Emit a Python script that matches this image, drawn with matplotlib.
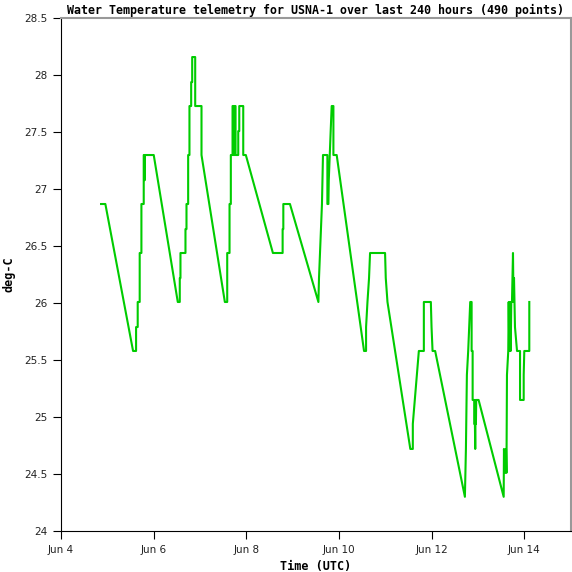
import matplotlib
matplotlib.use("Agg")
import matplotlib.pyplot as plt

# Zeit in Tagen seit Jun 4 00:00 UTC, Wassertemperatur in deg-C
days = [0.865, 0.958, 1.556, 1.621, 1.621, 1.656, 1.656, 1.699, 1.699, 1.736,
        1.736, 1.786, 1.786, 1.801, 1.801, 1.811, 1.811, 2.002,
        2.521, 2.564, 2.564, 2.579, 2.579, 2.687, 2.687, 2.709, 2.709, 2.745,
        2.745, 2.773, 2.773, 2.810, 2.810, 2.832, 2.832, 2.897, 2.897, 3.033,
        3.033,
        3.537, 3.588, 3.588, 3.638, 3.638, 3.666, 3.666, 3.703, 3.703, 3.725,
        3.725, 3.746, 3.746, 3.768, 3.768, 3.826, 3.826, 3.848, 3.848, 3.934,
        3.934, 3.990,
        4.574, 4.784, 4.784, 4.799, 4.799, 4.942,
        5.556, 5.569, 5.590, 5.612, 5.633, 5.655, 5.750, 5.750, 5.772, 5.780,
        5.800, 5.821, 5.843, 5.880, 5.880, 5.951,
        6.541, 6.585, 6.585, 6.615, 6.649, 6.671, 6.995, 7.010, 7.047,
        7.540, 7.594, 7.594, 7.637, 7.681, 7.724, 7.832, 7.832, 7.983, 7.998,
        8.020, 8.076,
        8.718, 8.740, 8.761, 8.789, 8.811, 8.833, 8.863, 8.863, 8.885, 8.885,
        8.919, 8.919, 8.934, 8.941, 8.950, 8.956, 8.962, 9.014,
        9.555, 9.561, 9.583, 9.605, 9.615, 9.626, 9.654, 9.663, 9.676, 9.691,
        9.706, 9.719, 9.734, 9.745, 9.756, 9.767, 9.778, 9.799, 9.843, 9.908,
        9.908, 9.987, 9.987, 10.000, 10.108, 10.108]

temp = [26.87, 26.87, 25.58, 25.58, 25.79, 25.79, 26.01, 26.01, 26.44, 26.44,
        26.87, 26.87, 27.30, 27.30, 27.08, 27.08, 27.30, 27.30,
        26.01, 26.01, 26.22, 26.22, 26.44, 26.44, 26.65, 26.65, 26.87, 26.87,
        27.30, 27.30, 27.73, 27.73, 27.94, 27.94, 28.16, 28.16, 27.73, 27.73,
        27.30,
        26.01, 26.01, 26.44, 26.44, 26.87, 26.87, 27.30, 27.30, 27.73, 27.73,
        27.30, 27.30, 27.73, 27.73, 27.30, 27.30, 27.51, 27.51, 27.73, 27.73,
        27.30, 27.30,
        26.44, 26.44, 26.65, 26.65, 26.87, 26.87,
        26.01, 26.22, 26.44, 26.65, 26.87, 27.30, 27.30, 26.87, 26.87, 27.08,
        27.30, 27.51, 27.73, 27.73, 27.30, 27.30,
        25.58, 25.58, 25.79, 26.01, 26.22, 26.44, 26.44, 26.22, 26.01,
        24.72, 24.72, 24.94, 25.15, 25.37, 25.58, 25.58, 26.01, 26.01, 25.79,
        25.58, 25.58,
        24.30, 24.72, 25.37, 25.58, 25.79, 26.01, 26.01, 25.58, 25.58, 25.15,
        25.15, 24.94, 24.94, 24.72, 25.15, 24.94, 25.15, 25.15,
        24.30, 24.72, 24.51, 24.72, 24.51, 25.37, 25.58, 26.01, 25.58, 26.01,
        25.58, 26.01, 26.01, 26.22, 26.44, 26.01, 26.22, 25.79, 25.58, 25.58,
        25.15, 25.15, 25.37, 25.58, 25.58, 26.01]

tick_days = [0, 2, 4, 6, 8, 10]
tick_labels = ["Jun 4", "Jun 6", "Jun 8", "Jun 10", "Jun 12", "Jun 14"]
y_ticks = [24, 24.5, 25, 25.5, 26, 26.5, 27, 27.5, 28, 28.5]
y_labels = ["24", "24.5", "25", "25.5", "26", "26.5", "27", "27.5", "28", "28.5"]

fig = plt.figure(figsize=(5.72, 5.72), dpi=100)
ax = fig.add_axes([0.1066, 0.0717, 0.891, 0.8963])

ax.plot(days, temp, color="#00cc00", linewidth=1.5)

ax.set_xlim(0, 11)
ax.set_ylim(24, 28.5)
ax.set_xticks(tick_days)
ax.set_xticklabels(tick_labels)
ax.set_yticks(y_ticks)
ax.set_yticklabels(y_labels)
ax.tick_params(direction="out", length=6, width=0.8, labelsize=7.5,
               labelcolor="#222222", pad=4)

for s in ["top", "right"]:
    ax.spines[s].set_color("#999999")
    ax.spines[s].set_linewidth(1.5)
for s in ["left", "bottom"]:
    ax.spines[s].set_color("black")
    ax.spines[s].set_linewidth(0.8)

ax.set_title("Water Temperature telemetry for USNA-1 over last 240 hours (490 points)",
             fontfamily="DejaVu Sans Mono", fontweight="bold", fontsize=8.4, pad=3)
ax.set_xlabel("Time (UTC)", fontfamily="DejaVu Sans Mono", fontweight="bold",
              fontsize=8.5, labelpad=4)
ax.set_ylabel("deg-C", fontfamily="DejaVu Sans Mono", fontweight="bold",
              fontsize=8.5, labelpad=6)

fig.savefig("out.png", dpi=100)
